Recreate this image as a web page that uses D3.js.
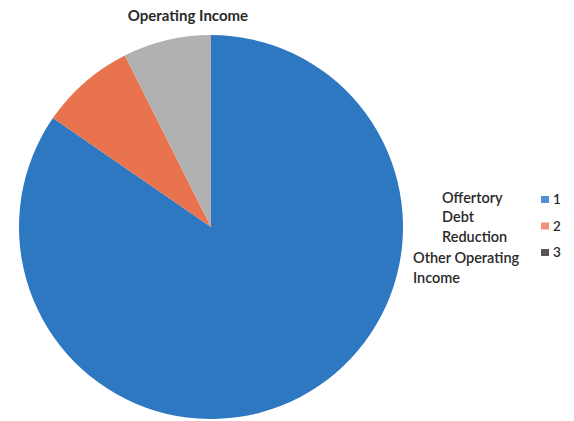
<!DOCTYPE html>
<html><head><meta charset="utf-8">
<script src="https://cdn.jsdelivr.net/npm/d3@7"></script>
<style>body{margin:0;background:#fff}svg{display:block}</style>
</head><body>
<script>
const categories = ["Offertory", "Debt Reduction", "Other Operating Income"];
const values = [84.6, 8.0, 7.4];
const legendKeys = ["1", "2", "3"];
const sliceColors = ["#2e78c2", "#e8734e", "#b1b1b1"];
const markerColors = ["#4f8fd6", "#f3907c", "#555555"];

const W = 574, H = 421;
const svg = d3.select("body").append("svg").attr("width", W).attr("height", H);

const cx = 211, cy = 227, r = 192;
const pie = d3.pie().sort(null).value(d => d)(values);
const arc = d3.arc().innerRadius(0).outerRadius(r);
svg.append("g").attr("transform", `translate(${cx},${cy})`)
  .selectAll("path").data(pie).join("path")
  .attr("d", arc).attr("fill", (d, i) => sliceColors[i]);

const font = "Lato, 'Open Sans', sans-serif";
svg.append("text").attr("x", 188).attr("y", 21).attr("text-anchor", "middle")
  .attr("font-family", font).attr("font-weight", "bold")
  .attr("font-size", 15).attr("fill", "#2a2a2a").text("Operating Income");

const labelLines = [
  {t: "Offertory", x: 442, y: 203},
  {t: "Debt", x: 442, y: 222},
  {t: "Reduction", x: 442, y: 242},
  {t: "Other Operating", x: 413, y: 263},
  {t: "Income", x: 413, y: 283}
];
svg.append("g").selectAll("text").data(labelLines).join("text")
  .attr("x", d => d.x).attr("y", d => d.y)
  .attr("font-family", font).attr("font-size", 14.5).attr("font-weight", 600)
  .attr("fill", "#2a2a2a")
  .text(d => d.t);

const ly = d3.scalePoint().domain(legendKeys).range([200, 253]);
const lg = svg.append("g").selectAll("g").data(legendKeys).join("g")
  .attr("transform", d => `translate(541,${ly(d)})`);
lg.append("rect").attr("x", 0).attr("y", -4).attr("width", 8).attr("height", 7)
  .attr("fill", (d, i) => markerColors[i]);
lg.append("text").attr("x", 12).attr("y", 4).attr("font-family", font)
  .attr("font-size", 13.5).attr("font-weight", 600).attr("fill", "#2a2a2a").text(d => d);
</script>
</body></html>
